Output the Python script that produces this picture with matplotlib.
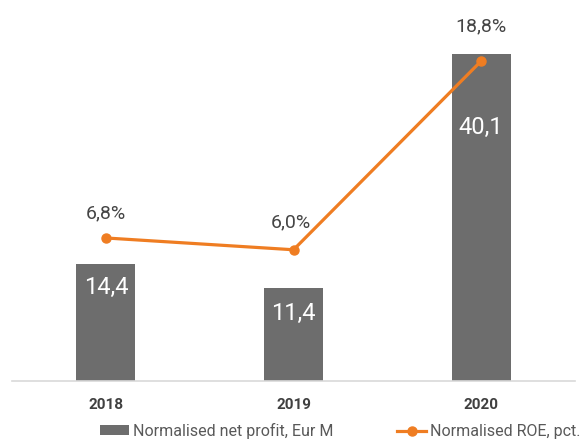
import matplotlib
matplotlib.use("Agg")
import matplotlib.pyplot as plt
from matplotlib.lines import Line2D
from matplotlib.patches import Patch

years = ["2018", "2019", "2020"]
profit = [14.4, 11.4, 40.1]
roe = [6.8, 6.0, 18.8]
profit_labels = ["14,4", "11,4", "40,1"]
roe_labels = ["6,8%", "6,0%", "18,8%"]

plt.rcParams['font.family'] = ['Roboto', 'DejaVu Sans']

W, H = 582, 441
fig = plt.figure(figsize=(W / 100, H / 100), dpi=100)
ax = fig.add_axes([12 / W, (H - 381) / H, 563 / W, 371 / H])
x = list(range(len(years)))
bar_color = "#6d6d6d"
line_color = "#ef7d22"
ax.bar(x, profit, width=0.315, color=bar_color, zorder=2)
ax.set_xlim(-0.5, 2.5)
ax.set_ylim(0, 45.5)
for s in ["top", "right", "left"]:
    ax.spines[s].set_visible(False)
ax.spines["bottom"].set_color("#d9d9d9")
ax.spines["bottom"].set_linewidth(1.2)
ax.set_yticks([])
ax.set_xticks(x)
ax.set_xticklabels(years, fontsize=11, fontweight="bold", color="#404040")
ax.tick_params(axis="x", length=0, pad=12)

offsets = [-24, -25, -73]
for xi, v, lab, off in zip(x, profit, profit_labels, offsets):
    ax.annotate(lab, (xi, v), xytext=(0, off * 0.72), textcoords="offset points",
                ha="center", va="center", color="white", fontsize=17)

ax2 = ax.twinx()
ax2.set_ylim(-2.9, 22.26)
ax2.plot(x, roe, color=line_color, lw=2.3, marker="o", ms=6.5, zorder=3)
ax2.axis("off")
roe_off = [(0, 25), (-3, 27), (0, 35)]
for xi, v, lab, off in zip(x, roe, roe_labels, roe_off):
    ax2.annotate(lab, (xi, v), xytext=(off[0] * 0.72, off[1] * 0.72), textcoords="offset points",
                 ha="center", va="center", color="#454545", fontsize=14)

handles = [Patch(facecolor=bar_color, edgecolor="none"),
           Line2D([], [], color=line_color, lw=2.3, marker="o", ms=6.5)]
fig.legend(handles, ["Normalised net profit, Eur M", "Normalised ROE, pct."],
           loc="center", bbox_to_anchor=(0.585, 1 - 431 / H), ncol=2, frameon=False,
           fontsize=11.5, labelcolor="#595959", handlelength=1.8, handletextpad=0.25,
           columnspacing=4.0, handleheight=0.6, borderaxespad=0, borderpad=0)

fig.savefig("out.png", dpi=100)
